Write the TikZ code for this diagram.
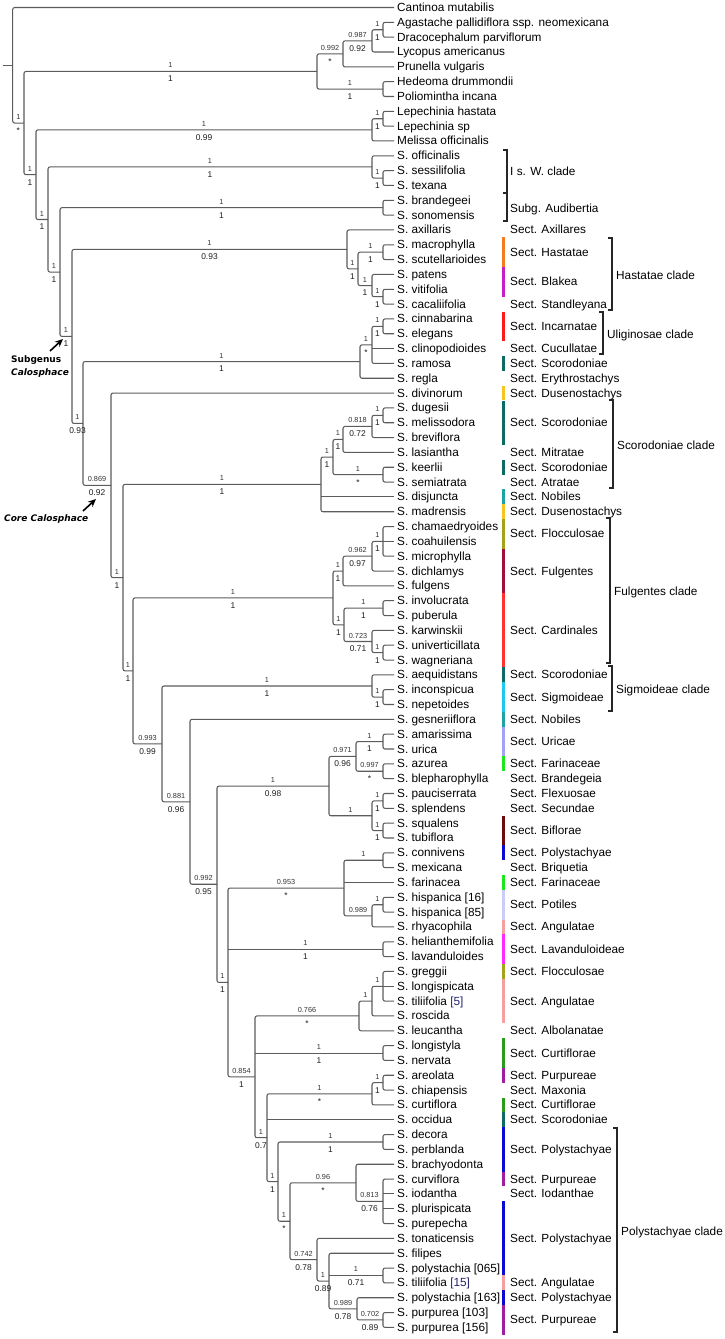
\documentclass[tikz,border=0pt]{standalone}
\usepackage{fontspec}
\setmainfont{Liberation Sans}
\newfontfamily\vfont{DejaVu Sans}
\usetikzlibrary{calc,arrows.meta}
\definecolor{cHast}{HTML}{F57C20}
\definecolor{cBlak}{HTML}{C81EC8}
\definecolor{cIncar}{HTML}{FF1A1A}
\definecolor{cScor}{HTML}{0E6B64}
\definecolor{cDus}{HTML}{F7C51E}
\definecolor{cNob}{HTML}{1FA3A3}
\definecolor{cFloc}{HTML}{A3A31A}
\definecolor{cFulg}{HTML}{A0103A}
\definecolor{cCard}{HTML}{FF3333}
\definecolor{cSigm}{HTML}{20C8F0}
\definecolor{cUric}{HTML}{A3A3F5}
\definecolor{cFarin}{HTML}{1EE61E}
\definecolor{cBifl}{HTML}{6E0A0A}
\definecolor{cPoly}{HTML}{0A0AD2}
\definecolor{cPot}{HTML}{CCCCF5}
\definecolor{cAng}{HTML}{F5A0A0}
\definecolor{cLav}{HTML}{FF28FF}
\definecolor{cCurt}{HTML}{2A9A1A}
\definecolor{cPurp}{HTML}{A01EA0}
\definecolor{cNavy}{HTML}{23236E}
\definecolor{cLine}{HTML}{5C5C5C}
\tikzset{
  tree/.style={draw=cLine, line width=1.05pt, rounded corners=2pt},
  leaf/.style={anchor=base west, inner sep=0pt, xshift=3pt, yshift=-4pt, font=\fontsize{11.8}{13}\selectfont},
  sect/.style={anchor=base west, inner sep=0pt, yshift=-4pt, font=\fontsize{11.8}{13}\selectfont},
  tl/.style={inner sep=0pt, yshift=6pt, font=\fontsize{7.3}{8}\selectfont, text=black!80},
  bl/.style={inner sep=0pt, yshift=-7.5pt, font=\fontsize{8.4}{9}\selectfont, text=black!88},
  brk/.style={draw=black!85, line width=1.3pt},
  big/.style={inner sep=0pt, anchor=base west, font=\vfont\bfseries\fontsize{9}{11}\selectfont},
  arr/.style={line width=1.6pt, -{Stealth[length=8pt,width=7pt]}},
}
\newcommand\tleaf[2]{\coordinate (t#1) at (394,{7.5+(#1-1)*14.83}); \node[leaf] (n#1) at (t#1) {#2};}
\newcommand\tnode[4]{\path let \p1=(#3), \p2=(#4) in coordinate (#1) at (#2pt,{(\y1+\y2)/2});
  \draw[tree] (#3) -| (#1) |- (#4);}
\newcommand\tmid[2]{\draw[tree] (#1 |- #2) -- (#2);}
\newcommand\tlab[4]{\path (#1 |- #2) -- (#2) node[midway,tl] {#3} node[midway,bl] {#4};}
\newcommand\secn[3]{\node[sect] (s#1) at (510,{7.5+((#1+#2)/2-1)*14.83}) {#3};}
\newcommand\secb[4]{\fill[#3] (501.6,{7.5+(#1-1)*14.83-7.4}) rectangle (505,{7.5+(#2-1)*14.83+7.4}); \secn{#1}{#2}{#4}}
\newcommand\clade[5]{% name, x, ytop, ybot, text
  \draw[brk] (#2-4,#3) -- (#2,#3) -- (#2,#4) -- (#2-4,#4);
  \node[sect] (#1) at (#2+4,{(#3+#4)/2+1}) {#5};}
\begin{document}
\begin{tikzpicture}[x=1pt,y=-1pt]
\fill[white] (0,0) rectangle (724,1339);
\useasboundingbox (0,0) rectangle (724,1339);
% leaves
\tleaf{1}{Cantinoa mutabilis}
\tleaf{2}{Agastache pallidiflora ssp. neomexicana}
\tleaf{3}{Dracocephalum parviflorum}
\tleaf{4}{Lycopus americanus}
\tleaf{5}{Prunella vulgaris}
\tleaf{6}{Hedeoma drummondii}
\tleaf{7}{Poliomintha incana}
\tleaf{8}{Lepechinia hastata}
\tleaf{9}{Lepechinia sp}
\tleaf{10}{Melissa officinalis}
\tleaf{11}{S. officinalis}
\tleaf{12}{S. sessilifolia}
\tleaf{13}{S. texana}
\tleaf{14}{S. brandegeei}
\tleaf{15}{S. sonomensis}
\tleaf{16}{S. axillaris}
\tleaf{17}{S. macrophylla}
\tleaf{18}{S. scutellarioides}
\tleaf{19}{S. patens}
\tleaf{20}{S. vitifolia}
\tleaf{21}{S. cacaliifolia}
\tleaf{22}{S. cinnabarina}
\tleaf{23}{S. elegans}
\tleaf{24}{S. clinopodioides}
\tleaf{25}{S. ramosa}
\tleaf{26}{S. regla}
\tleaf{27}{S. divinorum}
\tleaf{28}{S. dugesii}
\tleaf{29}{S. melissodora}
\tleaf{30}{S. breviflora}
\tleaf{31}{S. lasiantha}
\tleaf{32}{S. keerlii}
\tleaf{33}{S. semiatrata}
\tleaf{34}{S. disjuncta}
\tleaf{35}{S. madrensis}
\tleaf{36}{S. chamaedryoides}
\tleaf{37}{S. coahuilensis}
\tleaf{38}{S. microphylla}
\tleaf{39}{S. dichlamys}
\tleaf{40}{S. fulgens}
\tleaf{41}{S. involucrata}
\tleaf{42}{S. puberula}
\tleaf{43}{S. karwinskii}
\tleaf{44}{S. univerticillata}
\tleaf{45}{S. wagneriana}
\tleaf{46}{S. aequidistans}
\tleaf{47}{S. inconspicua}
\tleaf{48}{S. nepetoides}
\tleaf{49}{S. gesneriiflora}
\tleaf{50}{S. amarissima}
\tleaf{51}{S. urica}
\tleaf{52}{S. azurea}
\tleaf{53}{S. blepharophylla}
\tleaf{54}{S. pauciserrata}
\tleaf{55}{S. splendens}
\tleaf{56}{S. squalens}
\tleaf{57}{S. tubiflora}
\tleaf{58}{S. connivens}
\tleaf{59}{S. mexicana}
\tleaf{60}{S. farinacea}
\tleaf{61}{S. hispanica [16]}
\tleaf{62}{S. hispanica [85]}
\tleaf{63}{S. rhyacophila}
\tleaf{64}{S. helianthemifolia}
\tleaf{65}{S. lavanduloides}
\tleaf{66}{S. greggii}
\tleaf{67}{S. longispicata}
\tleaf{68}{S. tiliifolia {\color{cNavy}[5]}}
\tleaf{69}{S. roscida}
\tleaf{70}{S. leucantha}
\tleaf{71}{S. longistyla}
\tleaf{72}{S. nervata}
\tleaf{73}{S. areolata}
\tleaf{74}{S. chiapensis}
\tleaf{75}{S. curtiflora}
\tleaf{76}{S. occidua}
\tleaf{77}{S. decora}
\tleaf{78}{S. perblanda}
\tleaf{79}{S. brachyodonta}
\tleaf{80}{S. curviflora}
\tleaf{81}{S. iodantha}
\tleaf{82}{S. plurispicata}
\tleaf{83}{S. purepecha}
\tleaf{84}{S. tonaticensis}
\tleaf{85}{S. filipes}
\tleaf{86}{S. polystachia [065]}
\tleaf{87}{S. tiliifolia {\color{cNavy}[15]}}
\tleaf{88}{S. polystachia [163]}
\tleaf{89}{S. purpurea [103]}
\tleaf{90}{S. purpurea [156]}
% internal nodes
\tnode{G}{383}{t2}{t3}
\tnode{F}{372}{G}{t4}
\tnode{D}{343}{F}{t5}
\tnode{E}{383}{t6}{t7}
\tnode{B}{317}{D}{E}
\tnode{J}{383}{t8}{t9}
\tnode{H}{372}{J}{t10}
\tnode{ST}{383}{t12}{t13}
\tnode{K}{372}{t11}{ST}
\tnode{M}{383}{t14}{t15}
\tnode{R}{383}{t17}{t18}
\tnode{T}{383}{t20}{t21}
\tnode{S}{372}{t19}{T}
\tnode{Q}{358}{R}{S}
\tnode{O}{347}{t16}{Q}
\tnode{X}{383}{t22}{t23}
\tnode{W}{372}{X}{t25}
\tmid{W}{t24}
\tnode{U}{360}{W}{t26}
\tnode{DM}{383}{t28}{t29}
\tnode{AE}{372}{DM}{t30}
\tnode{AC}{343}{AE}{t31}
\tnode{AD}{383}{t32}{t33}
\tnode{AB}{333}{AC}{AD}
\tnode{Z}{321}{AB}{t35}
\tmid{Z}{t34}
\tnode{CC}{383}{t36}{t38}
\tmid{CC}{t37}
\tnode{AJ}{372}{CC}{t39}
\tnode{AH}{343}{AJ}{t40}
\tnode{AK}{383}{t41}{t42}
\tnode{UW}{383}{t44}{t45}
\tnode{AL}{372}{t43}{UW}
\tnode{AI}{344}{AK}{AL}
\tnode{AF}{333}{AH}{AI}
\tnode{IN}{383}{t47}{t48}
\tnode{AM}{372}{t46}{IN}
\tnode{MU}{383}{t50}{t51}
\tnode{ZB}{383}{t52}{t53}
\tnode{AV}{356}{MU}{ZB}
\tnode{PS}{383}{t54}{t55}
\tnode{SQ}{383}{t56}{t57}
\tnode{AW}{372}{PS}{SQ}
\tnode{AQ}{329}{AV}{AW}
\tnode{CM}{383}{t58}{t59}
\tnode{HH}{383}{t61}{t62}
\tnode{AX}{372}{HH}{t63}
\tnode{AS}{344}{CM}{AX}
\tmid{AS}{t60}
\tnode{AT}{383}{t64}{t65}
\tnode{BD}{383}{t66}{t68}
\tmid{BD}{t67}
\tnode{BC}{372}{BD}{t69}
\tnode{AY}{359}{BC}{t70}
\tnode{AZ}{383}{t71}{t72}
\tnode{ACH}{383}{t73}{t74}
\tnode{BE}{372}{ACH}{t75}
\tnode{BG}{383}{t77}{t78}
\tnode{BK}{383}{t80}{t83}
\tmid{BK}{t81}
\tmid{BK}{t82}
\tnode{BI}{356}{t79}{BK}
\tnode{BO}{383}{t86}{t87}
\tnode{BQ}{383}{t89}{t90}
\tnode{BP}{357}{t88}{BQ}
\tnode{BM}{329}{t85}{BP}
\tmid{BM}{BO}
\tnode{BJ}{317}{t84}{BM}
\tnode{BH}{290}{BI}{BJ}
\tnode{BF}{278}{BG}{BH}
\tnode{BB}{267}{BE}{BF}
\tmid{BB}{t76}
\tnode{AU}{255}{AY}{BB}
\tmid{AU}{AZ}
\tnode{AR}{228}{AS}{AU}
\tmid{AR}{AT}
\tnode{AP}{217}{AQ}{AR}
\tnode{AN}{190}{t49}{AP}
\tnode{AG}{162}{AM}{AN}
\tnode{AA}{133}{AF}{AG}
\tnode{Y}{123}{Z}{AA}
\tnode{V}{111}{t27}{Y}
\tnode{P}{83}{U}{V}
\tnode{N}{72}{O}{P}
\tnode{L}{60}{M}{N}
\tnode{I}{48}{K}{L}
\tnode{C}{36}{H}{I}
\tnode{A}{24}{B}{C}
\tnode{R0}{12.7}{t1}{A}
\draw[tree] (R0) -- ++(-9.7,0) coordinate (stub);
% support values
\tlab{R0}{A}{1}{*}
\tlab{A}{B}{1}{1}
\tlab{B}{D}{0.992}{*}
\tlab{D}{F}{0.987}{0.92}
\tlab{F}{G}{1}{1}
\tlab{B}{E}{1}{1}
\tlab{A}{C}{1}{1}
\tlab{C}{H}{1}{0.99}
\tlab{H}{J}{1}{1}
\tlab{C}{I}{1}{1}
\tlab{I}{K}{1}{1}
\tlab{K}{ST}{1}{1}
\tlab{I}{L}{1}{1}
\tlab{L}{M}{1}{1}
\tlab{L}{N}{1}{1}
\tlab{N}{O}{1}{0.93}
\tlab{O}{Q}{1}{1}
\tlab{Q}{R}{1}{1}
\tlab{Q}{S}{1}{1}
\tlab{S}{T}{1}{1}
\tlab{N}{P}{1}{0.93}
\tlab{P}{U}{1}{1}
\tlab{U}{W}{1}{*}
\tlab{W}{X}{1}{1}
\tlab{P}{V}{0.869}{0.92}
\tlab{V}{Y}{1}{1}
\tlab{Y}{Z}{1}{1}
\tlab{Z}{AB}{1}{1}
\tlab{AB}{AC}{1}{1}
\tlab{AC}{AE}{0.818}{0.72}
\tlab{AE}{DM}{1}{1}
\tlab{AB}{AD}{1}{*}
\tlab{Y}{AA}{1}{1}
\tlab{AA}{AF}{1}{1}
\tlab{AF}{AH}{1}{1}
\tlab{AH}{AJ}{0.962}{0.97}
\tlab{AJ}{CC}{1}{1}
\tlab{AF}{AI}{1}{1}
\tlab{AI}{AK}{1}{1}
\tlab{AI}{AL}{0.723}{0.71}
\tlab{AL}{UW}{1}{1}
\tlab{AA}{AG}{0.993}{0.99}
\tlab{AG}{AM}{1}{1}
\tlab{AM}{IN}{1}{1}
\tlab{AG}{AN}{0.881}{0.96}
\tlab{AN}{AP}{0.992}{0.95}
\tlab{AP}{AQ}{1}{0.98}
\tlab{AQ}{AV}{0.971}{0.96}
\tlab{AV}{MU}{1}{1}
\tlab{AV}{ZB}{0.997}{*}
\tlab{AQ}{AW}{1}{}
\tlab{AW}{PS}{1}{1}
\tlab{AW}{SQ}{1}{1}
\tlab{AP}{AR}{1}{1}
\tlab{AR}{AS}{0.953}{*}
\tlab{AS}{CM}{1}{}
\tlab{AS}{AX}{0.989}{}
\tlab{AX}{HH}{1}{}
\tlab{AR}{AT}{1}{1}
\tlab{AR}{AU}{0.854}{1}
\tlab{AU}{AY}{0.766}{*}
\tlab{AY}{BC}{1}{}
\tlab{BC}{BD}{1}{}
\tlab{AU}{AZ}{1}{1}
\tlab{AU}{BB}{1}{0.7}
\tlab{BB}{BE}{1}{*}
\tlab{BE}{ACH}{1}{1}
\tlab{BB}{BF}{1}{1}
\tlab{BF}{BG}{1}{1}
\tlab{BF}{BH}{1}{*}
\tlab{BH}{BI}{0.96}{*}
\tlab{BI}{BK}{0.813}{0.76}
\tlab{BH}{BJ}{0.742}{0.78}
\tlab{BJ}{BM}{1}{0.89}
\tlab{BM}{BO}{1}{0.71}
\tlab{BM}{BP}{0.989}{0.78}
\tlab{BP}{BQ}{0.702}{0.89}
% sections
\secn{16}{16}{Sect. Axillares}
\secb{17}{18}{cHast}{Sect. Hastatae}
\secb{19}{20}{cBlak}{Sect. Blakea}
\secn{21}{21}{Sect. Standleyana}
\secb{22}{23}{cIncar}{Sect. Incarnatae}
\secn{24}{24}{Sect. Cucullatae}
\secb{25}{25}{cScor}{Sect. Scorodoniae}
\secn{26}{26}{Sect. Erythrostachys}
\secb{27}{27}{cDus}{Sect. Dusenostachys}
\secb{28}{30}{cScor}{Sect. Scorodoniae}
\secn{31}{31}{Sect. Mitratae}
\secb{32}{32}{cScor}{Sect. Scorodoniae}
\secn{33}{33}{Sect. Atratae}
\secb{34}{34}{cNob}{Sect. Nobiles}
\secb{35}{35}{cDus}{Sect. Dusenostachys}
\secb{36}{37}{cFloc}{Sect. Flocculosae}
\secb{38}{40}{cFulg}{Sect. Fulgentes}
\secb{41}{45}{cCard}{Sect. Cardinales}
\secb{46}{46}{cScor}{Sect. Scorodoniae}
\secb{47}{48}{cSigm}{Sect. Sigmoideae}
\secb{49}{49}{cNob}{Sect. Nobiles}
\secb{50}{51}{cUric}{Sect. Uricae}
\secb{52}{52}{cFarin}{Sect. Farinaceae}
\secn{53}{53}{Sect. Brandegeia}
\secn{54}{54}{Sect. Flexuosae}
\secn{55}{55}{Sect. Secundae}
\secb{56}{57}{cBifl}{Sect. Biflorae}
\secb{58}{58}{cPoly}{Sect. Polystachyae}
\secn{59}{59}{Sect. Briquetia}
\secb{60}{60}{cFarin}{Sect. Farinaceae}
\secb{61}{62}{cPot}{Sect. Potiles}
\secb{63}{63}{cAng}{Sect. Angulatae}
\secb{64}{65}{cLav}{Sect. Lavanduloideae}
\secb{66}{66}{cFloc}{Sect. Flocculosae}
\secb{67}{69}{cAng}{Sect. Angulatae}
\secn{70}{70}{Sect. Albolanatae}
\secb{71}{72}{cCurt}{Sect. Curtiflorae}
\secb{73}{73}{cPurp}{Sect. Purpureae}
\secn{74}{74}{Sect. Maxonia}
\secb{75}{75}{cCurt}{Sect. Curtiflorae}
\secb{76}{76}{cScor}{Sect. Scorodoniae}
\secb{77}{79}{cPoly}{Sect. Polystachyae}
\secb{80}{80}{cPurp}{Sect. Purpureae}
\secn{81}{81}{Sect. Iodanthae}
\secb{82}{86}{cPoly}{Sect. Polystachyae}
\secb{87}{87}{cAng}{Sect. Angulatae}
\secb{88}{88}{cPoly}{Sect. Polystachyae}
\secb{89}{90}{cPurp}{Sect. Purpureae}
% clade brackets
\draw[brk] (503,150) -- (507,150) -- (507,221) -- (503,221);
\draw[brk] (503,193) -- (507,193);
\node[sect] (cIsW) at (510,171) {I s. W. clade};
\node[sect] (cAud) at (510,208) {Subg. Audibertia};
\clade{cHa}{612}{238}{310}{Hastatae clade}
\clade{cUl}{603}{312}{354}{Uliginosae clade}
\clade{cSc}{613}{400}{488}{Scorodoniae clade}
\clade{cFu}{610}{518}{663}{Fulgentes clade}
\clade{cSi}{612}{666}{711}{Sigmoideae clade}
\clade{cPo}{617}{1128}{1332}{Polystachyae clade}
% annotations
\node[big] (subg1) at (11,362.5) {Subgenus};
\node[big] (subg2) at (11,375.5) {\itshape Calosphace};
\node[big] (core) at (4,521.5) {\itshape Core Calosphace};
\coordinate (sgA) at (50,351);
\coordinate (sgB) at (63,339);
\coordinate (ccA) at (83,511);
\coordinate (ccB) at (96,499);
\draw[arr] (sgA) -- (sgB);
\draw[arr] (ccA) -- (ccB);
\end{tikzpicture}
\end{document}
